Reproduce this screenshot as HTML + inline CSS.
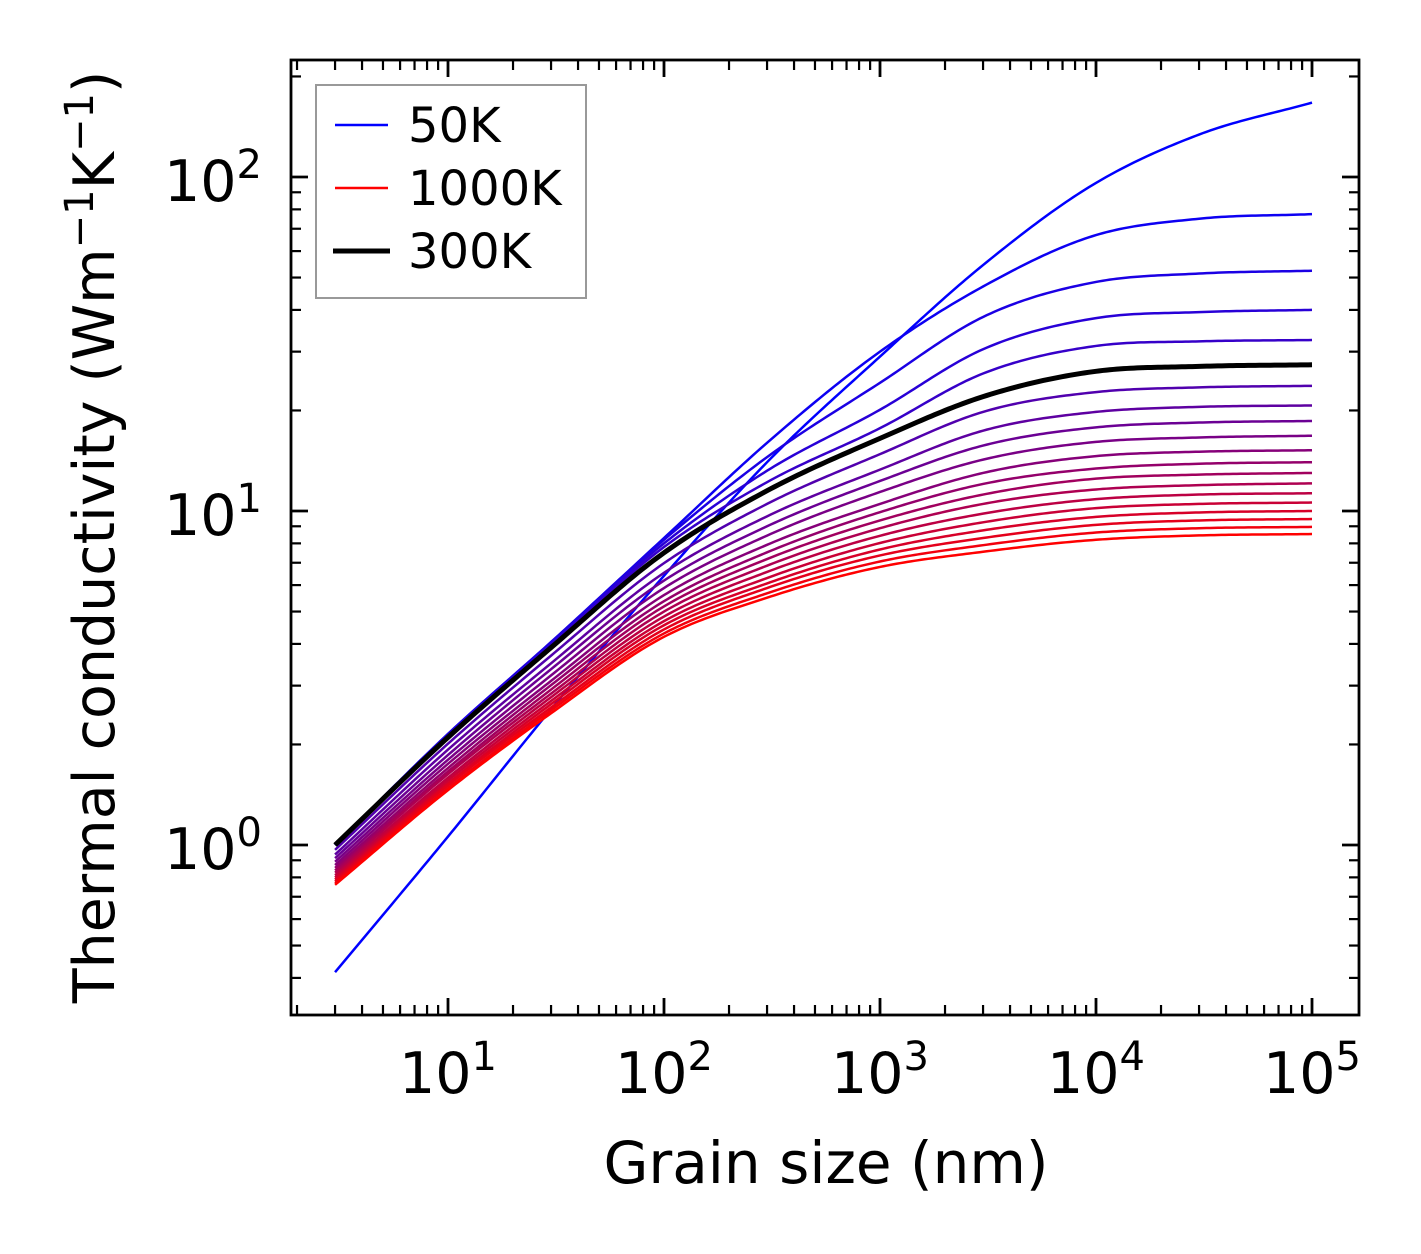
<!DOCTYPE html>
<html><head><meta charset="utf-8"><style>
html,body{margin:0;padding:0;background:#fff;}
svg{display:block;font-family:"DejaVu Sans","Liberation Sans",sans-serif;}
</style></head><body>
<svg id="chart" width="1421" height="1254" viewBox="0 0 1421 1254" xmlns="http://www.w3.org/2000/svg">
<rect x="0" y="0" width="1421" height="1254" fill="#fff"/>
<g id="series"></g>
<g id="ticks"></g>
<rect x="291" y="60" width="1068" height="955" fill="none" stroke="#000" stroke-width="2.8"/>
<g id="labels"></g>
<text x="826" y="1183" font-size="58" text-anchor="middle">Grain size (nm)</text>
<text transform="translate(114,537) rotate(-90)" font-size="57" text-anchor="middle">Thermal conductivity (Wm<tspan dy="-21" font-size="40">−1</tspan><tspan dy="21">K</tspan><tspan dy="-21" font-size="40">−1</tspan><tspan dy="21">)</tspan></text>
<g>
<rect x="316" y="85" width="270" height="213" fill="#fff" fill-opacity="0.8" stroke="#999" stroke-width="2"/>
<line x1="335" y1="125" x2="388" y2="125" stroke="#0000ff" stroke-width="2.5"/>
<text x="408" y="142" font-size="48">50K</text>
<line x1="335" y1="188" x2="388" y2="188" stroke="#ff0000" stroke-width="2.5"/>
<text x="408" y="205" font-size="48">1000K</text>
<line x1="333" y1="251" x2="390" y2="251" stroke="#000" stroke-width="5"/>
<text x="408" y="268" font-size="48">300K</text>
</g>
</svg>
<script>
const grainSizes = [3, 10, 30, 100, 300, 1000, 3000, 10000, 30000, 100000];
const temperatures = [50,100,150,200,250,350,400,450,500,550,600,650,700,750,800,850,900,950,1000];
const k50 = [0.416, 1.06, 2.55, 6.4, 14.0, 29, 54.5, 96, 134, 167];
const k100 = [1.0, 2.15, 4.05, 8.3, 16, 30, 47, 67, 75, 77.4];
const k150 = [1.0, 2.15, 4.05, 8.2, 14.5, 24.2, 38.1, 48.5, 51.4, 52.4];
const k200 = [1.0, 2.13, 4.0, 8.0, 13.2, 20.1, 30.5, 37.8, 39.4, 40];
const k250 = [1.0, 2.12, 3.95, 7.8, 12.2, 17.7, 25.8, 31.2, 32.2, 32.5];
const k350 = [0.967, 2.01, 3.69, 6.98, 10.5, 14.8, 19.8, 22.7, 23.45, 23.7];
const k400 = [0.936, 1.93, 3.50, 6.53, 9.64, 13.3, 17.4, 19.8, 20.5, 20.7];
const k450 = [0.913, 1.86, 3.36, 6.19, 9.0, 12.3, 15.7, 17.8, 18.4, 18.6];
const k500 = [0.891, 1.80, 3.22, 5.88, 8.44, 11.4, 14.25, 16.1, 16.6, 16.8];
const k550 = [0.871, 1.75, 3.10, 5.6, 7.92, 10.5, 13.0, 14.6, 15.05, 15.2];
const k600 = [0.854, 1.70, 3.01, 5.37, 7.52, 9.92, 12.05, 13.4, 13.85, 14.0];
const k650 = [0.839, 1.66, 2.92, 5.18, 7.18, 9.37, 11.2, 12.5, 12.85, 13.0];
const k700 = [0.826, 1.63, 2.84, 5.0, 6.86, 8.88, 10.5, 11.6, 11.95, 12.1];
const k750 = [0.812, 1.59, 2.77, 4.83, 6.57, 8.43, 9.82, 10.85, 11.2, 11.3];
const k800 = [0.800, 1.56, 2.70, 4.68, 6.30, 8.02, 9.25, 10.2, 10.5, 10.6];
const k850 = [0.789, 1.53, 2.64, 4.55, 6.07, 7.67, 8.75, 9.6, 9.9, 10.0];
const k900 = [0.779, 1.51, 2.58, 4.42, 5.88, 7.36, 8.3, 9.09, 9.37, 9.46];
const k950 = [0.769, 1.48, 2.53, 4.30, 5.67, 7.06, 7.9, 8.62, 8.88, 8.96];
const k1000 = [0.76, 1.46, 2.48, 4.2, 5.5, 6.8, 7.55, 8.2, 8.45, 8.53];
const k300 = [1.0, 2.1, 3.9, 7.5, 11.5, 16.5, 22.0, 26.2, 27.1, 27.4];
const xTickLabels = ["1", "2", "3", "4", "5"];
const yTickLabels = ["0", "1", "2"];

const allSeries = [k50,k100,k150,k200,k250,k350,k400,k450,k500,k550,k600,k650,k700,k750,k800,k850,k900,k950,k1000];
const NS = "http://www.w3.org/2000/svg";
function xScale(d){ return 448 + 216*(Math.log10(d) - 1); }
function yScale(v){ return 845 - 334*Math.log10(v); }

function smoothPath(xs, ys){
  const n = xs.length, dx=[], m=[], t=new Array(n);
  for(let i=0;i<n-1;i++){ dx.push(xs[i+1]-xs[i]); m.push((ys[i+1]-ys[i])/dx[i]); }
  t[0]=m[0]; t[n-1]=m[n-2];
  for(let i=1;i<n-1;i++){ t[i] = (dx[i]*m[i-1] + dx[i-1]*m[i])/(dx[i-1]+dx[i]); }
  const pts=[];
  for(let i=0;i<n-1;i++){
    const steps=30;
    for(let s=(i===0?0:1);s<=steps;s++){
      const h=s/steps, h2=h*h, h3=h2*h;
      const y = (2*h3-3*h2+1)*ys[i] + (h3-2*h2+h)*dx[i]*t[i] + (-2*h3+3*h2)*ys[i+1] + (h3-h2)*dx[i]*t[i+1];
      pts.push([xs[i]+h*dx[i], y]);
    }
  }
  return pts.map((p,j)=>(j?"L":"M")+xScale(Math.pow(10,p[0])).toFixed(2)+","+yScale(Math.pow(10,p[1])).toFixed(2)).join("");
}
const lx = grainSizes.map(d=>Math.log10(d));
const sg = document.getElementById("series");
allSeries.forEach((vals,i)=>{
  const f=(temperatures[i]-50)/950;
  const p=document.createElementNS(NS,"path");
  p.setAttribute("d", smoothPath(lx, vals.map(v=>Math.log10(v))));
  p.setAttribute("fill","none");
  p.setAttribute("stroke","rgb("+Math.round(255*f)+",0,"+Math.round(255*(1-f))+")");
  p.setAttribute("stroke-width","2.5");
  
  
  sg.appendChild(p);
});
const pb=document.createElementNS(NS,"path");
pb.setAttribute("d", smoothPath(lx, k300.map(v=>Math.log10(v))));
pb.setAttribute("fill","none"); pb.setAttribute("stroke","#000"); pb.setAttribute("stroke-width","5");


sg.appendChild(pb);

const tg=document.getElementById("ticks");
function tick(x1,y1,x2,y2,w,name){
  const l=document.createElementNS(NS,"line");
  l.setAttribute("x1",x1);l.setAttribute("y1",y1);l.setAttribute("x2",x2);l.setAttribute("y2",y2);
  l.setAttribute("stroke","#000");l.setAttribute("stroke-width",w);
  
  
  tg.appendChild(l);
}
for(let e=0;e<=5;e++){
  for(let k=1;k<=9;k++){
    const x=xScale(k*Math.pow(10,e));
    if(x<292||x>1358) continue;
    const L=(k===1)?17:10, w=(k===1)?2.8:2.2;
    tick(x,1015,x,1015-L,w,"x-tick");
    tick(x,60,x,60+L,w,"x-tick-top");
  }
}
for(let e=-1;e<=2;e++){
  for(let k=1;k<=9;k++){
    const y=yScale(k*Math.pow(10,e));
    if(y<61||y>1014) continue;
    const L=(k===1)?17:10, w=(k===1)?2.8:2.2;
    tick(291,y,291+L,y,w,"y-tick");
    tick(1359,y,1359-L,y,w,"y-tick-right");
  }
}
const lg=document.getElementById("labels");
xTickLabels.forEach(s=>{
  const t=document.createElementNS(NS,"text");
  t.setAttribute("x", xScale(Math.pow(10,+s))); t.setAttribute("y", 1093);
  t.setAttribute("font-size","57"); t.setAttribute("text-anchor","middle");
  t.innerHTML='10<tspan dy="-23" font-size="40">'+s+'</tspan>';
  
  
  lg.appendChild(t);
});
yTickLabels.forEach(s=>{
  const t=document.createElementNS(NS,"text");
  t.setAttribute("x", 262); t.setAttribute("y", yScale(Math.pow(10,+s))+24);
  t.setAttribute("font-size","57"); t.setAttribute("text-anchor","end");
  t.innerHTML='10<tspan dy="-23" font-size="40">'+s+'</tspan>';
  
  
  lg.appendChild(t);
});
</script>
</body></html>
